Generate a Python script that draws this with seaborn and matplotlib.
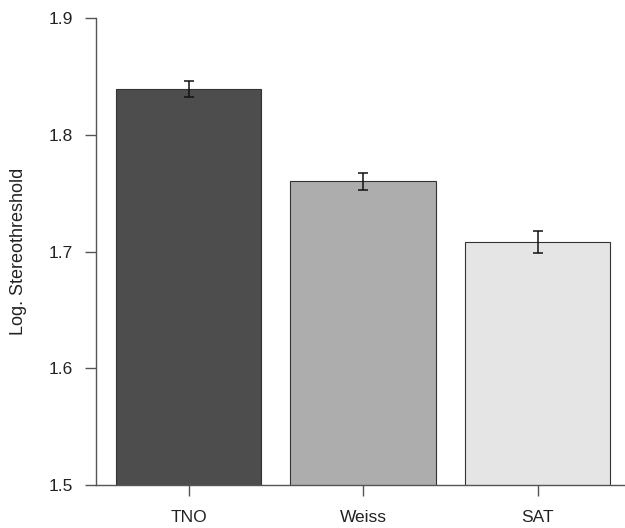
import matplotlib
matplotlib.use("Agg")
import matplotlib.pyplot as plt
import seaborn as sns
import pandas as pd

# values
tests = ["TNO", "Weiss", "SAT"]
log_thresh = [1.839, 1.760, 1.708]
sem = [0.0067, 0.0076, 0.0092]
bar_colors = ["#4d4d4d", "#adadad", "#e5e5e5"]

df = pd.DataFrame({"Test": tests, "Log. Stereothreshold": log_thresh})

sns.set_style("white")
plt.rcParams["font.family"] = ["Liberation Sans", "DejaVu Sans"]

fig = plt.figure(figsize=(6.25, 5.28), dpi=100)
ax = fig.add_axes([0.1536, 0.0814, 0.8464, 0.8845])

sns.barplot(data=df, x="Test", y="Log. Stereothreshold", hue="Test",
            palette=bar_colors, legend=False, errorbar=None,
            width=0.833, edgecolor="#333333", linewidth=0.8, ax=ax)

ax.errorbar(x=range(len(tests)), y=log_thresh, yerr=sem, fmt="none",
            ecolor="#111111", elinewidth=1.1, capsize=3.4, capthick=1.1)

ax.set_ylim(1.5, 1.9)
ax.set_xlim(-0.53, 2.50)
ax.set_yticks([1.5, 1.6, 1.7, 1.8, 1.9])
ax.set_yticklabels(["1.5", "1.6", "1.7", "1.8", "1.9"])

for side in ["top", "right"]:
    ax.spines[side].set_visible(False)
ax.spines["left"].set_bounds(1.5, 1.9)
for side in ["left", "bottom"]:
    ax.spines[side].set_color("#555555")
    ax.spines[side].set_linewidth(1.0)

ax.tick_params(axis="y", direction="out", length=8, width=1.0, color="#555555",
               pad=8.5, labelsize=12.5, labelcolor="#222222", left=True)
ax.tick_params(axis="x", direction="out", length=8, width=1.0, color="#555555",
               pad=10, labelsize=12.5, labelcolor="#222222", bottom=True)

ax.set_xlabel("")
ax.set_ylabel("Log. Stereothreshold", fontsize=13, color="#222222")
ax.yaxis.set_label_coords(-0.147, 0.5)
ax.yaxis.label.set_va("center")

fig.savefig("out.png", dpi=100)
